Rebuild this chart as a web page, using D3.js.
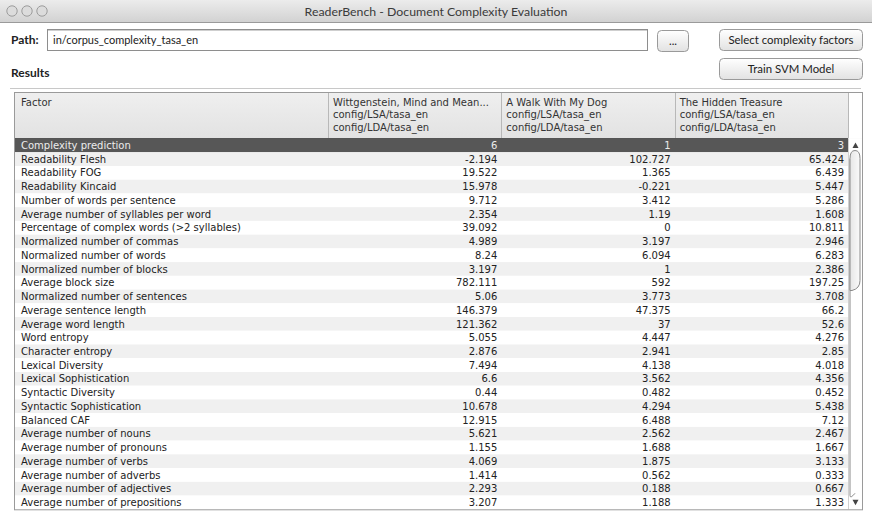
<!DOCTYPE html>
<html><head><meta charset="utf-8">
<script src="https://cdn.jsdelivr.net/npm/d3@7"></script>
<style>
html,body{margin:0;padding:0;background:#fff;}
svg{display:block;}
</style></head>
<body>
<script>
// ---------- DATA ----------
const windowTitle = "ReaderBench - Document Complexity Evaluation";
const pathValue = "in/corpus_complexity_tasa_en";
const buttonLabels = ["...", "Select complexity factors", "Train SVM Model"];
const factorHeader = "Factor";
const documents = ["Wittgenstein, Mind and Mean...", "A Walk With My Dog", "The Hidden Treasure"];
const docConfigs = ["config/LSA/tasa_en", "config/LDA/tasa_en"];
const factors = [
  "Complexity prediction",
  "Readability Flesh",
  "Readability FOG",
  "Readability Kincaid",
  "Number of words per sentence",
  "Average number of syllables per word",
  "Percentage of complex words (>2 syllables)",
  "Normalized number of commas",
  "Normalized number of words",
  "Normalized number of blocks",
  "Average block size",
  "Normalized number of sentences",
  "Average sentence length",
  "Average word length",
  "Word entropy",
  "Character entropy",
  "Lexical Diversity",
  "Lexical Sophistication",
  "Syntactic Diversity",
  "Syntactic Sophistication",
  "Balanced CAF",
  "Average number of nouns",
  "Average number of pronouns",
  "Average number of verbs",
  "Average number of adverbs",
  "Average number of adjectives",
  "Average number of prepositions"
];
const wittgensteinValues = ["6","-2.194","19.522","15.978","9.712","2.354","39.092","4.989","8.24","3.197","782.111","5.06","146.379","121.362","5.055","2.876","7.494","6.6","0.44","10.678","12.915","5.621","1.155","4.069","1.414","2.293","3.207"];
const walkDogValues = ["1","102.727","1.365","-0.221","3.412","1.19","0","3.197","6.094","1","592","3.773","47.375","37","4.447","2.941","4.138","3.562","0.482","4.294","6.488","2.562","1.688","1.875","0.562","0.188","1.188"];
const hiddenTreasureValues = ["3","65.424","6.439","5.447","5.286","1.608","10.811","2.946","6.283","2.386","197.25","3.708","66.2","52.6","4.276","2.85","4.018","4.356","0.452","5.438","7.12","2.467","1.667","3.133","0.333","0.667","1.333"];
const seriesValues = [wittgensteinValues, walkDogValues, hiddenTreasureValues];

// ---------- DRAW ----------
const W = 872, H = 524;
const uiFont = "Lato, 'Open Sans', sans-serif";
const tblFont = "'DejaVu Sans', Verdana, sans-serif";
const svg = d3.select("body").append("svg").attr("width", W).attr("height", H);
const defs = svg.append("defs");

const tg = defs.append("linearGradient").attr("id","titleGrad").attr("x1",0).attr("y1",0).attr("x2",0).attr("y2",1);
tg.append("stop").attr("offset","0%").attr("stop-color","#ececec");
tg.append("stop").attr("offset","100%").attr("stop-color","#d2d2d2");
const bg = defs.append("linearGradient").attr("id","btnGrad").attr("x1",0).attr("y1",0).attr("x2",0).attr("y2",1);
bg.append("stop").attr("offset","0%").attr("stop-color","#ffffff");
bg.append("stop").attr("offset","100%").attr("stop-color","#e2e2e2");
const hg = defs.append("linearGradient").attr("id","hdrGrad").attr("x1",0).attr("y1",0).attr("x2",0).attr("y2",1);
hg.append("stop").attr("offset","0%").attr("stop-color","#efefef");
hg.append("stop").attr("offset","100%").attr("stop-color","#e2e2e2");
const sg = defs.append("linearGradient").attr("id","scrGrad").attr("x1",0).attr("y1",0).attr("x2",1).attr("y2",0);
sg.append("stop").attr("offset","0%").attr("stop-color","#e6e6e6");
sg.append("stop").attr("offset","100%").attr("stop-color","#fafafa");

// Title bar
svg.append("rect").attr("x",0).attr("y",0).attr("width",W).attr("height",22).attr("fill","url(#titleGrad)");
svg.append("line").attr("x1",0).attr("x2",W).attr("y1",22.5).attr("y2",22.5).attr("stroke","#9a9a9a");
[12,27,42].forEach(cx=>{
  svg.append("circle").attr("cx",cx).attr("cy",11).attr("r",5.2).attr("fill","#dcdcdc").attr("stroke","#9c9c9c").attr("stroke-width",1);
});
svg.append("text").attr("x",436).attr("y",15.5).attr("text-anchor","middle")
  .attr("font-family",uiFont).attr("font-size",12.3).attr("fill","#3a3a3a").text(windowTitle);

// Path row
svg.append("text").attr("x",11).attr("y",44).attr("font-family",uiFont).attr("font-size",12).attr("font-weight","bold").attr("fill","#222").text("Path:");
svg.append("rect").attr("x",47.5).attr("y",29.5).attr("width",600).attr("height",21).attr("fill","#fff").attr("stroke","#8e8e8e");
svg.append("line").attr("x1",48).attr("x2",647).attr("y1",30.5).attr("y2",30.5).attr("stroke","#cfcfcf");
svg.append("text").attr("x",53).attr("y",44).attr("font-family",uiFont).attr("font-size",11).attr("fill","#222").text(pathValue);

// Buttons
const buttons = [
  {label: buttonLabels[0], x:657, y:30, w:31, h:21},
  {label: buttonLabels[1], x:719, y:29, w:143, h:21},
  {label: buttonLabels[2], x:719, y:58, w:143, h:21}
];
const bsel = svg.selectAll("g.btn").data(buttons).join("g").attr("class","btn");
bsel.append("rect").attr("x",d=>d.x+0.5).attr("y",d=>d.y+0.5).attr("width",d=>d.w).attr("height",d=>d.h)
  .attr("rx",4).attr("fill","url(#btnGrad)").attr("stroke","#9a9a9a");
bsel.append("text").attr("x",d=>d.x+d.w/2+0.5).attr("y",d=>d.y+d.h/2+4.5).attr("text-anchor","middle")
  .attr("font-family",uiFont).attr("font-size",11.4).attr("fill","#222").text(d=>d.label);

// Results label + separator
svg.append("text").attr("x",11).attr("y",77).attr("font-family",uiFont).attr("font-size",12).attr("font-weight","bold").attr("fill","#222").text("Results");
svg.append("line").attr("x1",10).attr("x2",861).attr("y1",88.5).attr("y2",88.5).attr("stroke","#c8c8c8");

// Table
const tX0 = 15, tX1 = 862, factorRight = 328, colsRight = 848;
const hdrTop = 93, hdrBot = 138.5, tblBot = 509.3;
const x = d3.scaleBand().domain(documents).range([factorRight, colsRight]).paddingInner(0).paddingOuter(0);
const y = d3.scaleBand().domain(factors).range([hdrBot, tblBot]);

// header
svg.append("rect").attr("x",tX0).attr("y",hdrTop).attr("width",tX1-tX0).attr("height",hdrBot-hdrTop).attr("fill","url(#hdrGrad)");
svg.append("rect").attr("x",colsRight).attr("y",hdrTop).attr("width",tX1-colsRight).attr("height",hdrBot-hdrTop).attr("fill","#fff");
[factorRight, ...documents.map(d=>x(d)+x.bandwidth())].forEach(xx=>{
  svg.append("line").attr("x1",Math.round(xx)+0.5).attr("x2",Math.round(xx)+0.5).attr("y1",hdrTop).attr("y2",hdrBot).attr("stroke","#b8b8b8");
});
svg.append("text").attr("x",tX0+6).attr("y",hdrTop+13).attr("font-family",tblFont).attr("font-size",10).attr("fill","#333").text(factorHeader);
const hdr = svg.selectAll("g.hdr").data(documents).join("g").attr("class","hdr");
hdr.each(function(doc){
  const g = d3.select(this);
  [doc, ...docConfigs].forEach((line,i)=>{
    g.append("text").attr("x",x(doc)+5).attr("y",hdrTop+13+i*12.4).attr("font-family",tblFont).attr("font-size",10).attr("fill","#333").text(line);
  });
});

// rows
const rows = svg.selectAll("g.row").data(factors).join("g").attr("class","row");
rows.append("rect").attr("x",tX0).attr("y",d=>y(d)).attr("width",colsRight-tX0).attr("height",y.bandwidth())
  .attr("fill",(d,i)=> i===0 ? "#575757" : (i%2===1 ? "#f0f0f0" : "#ffffff"));
rows.append("text").attr("x",tX0+6).attr("y",d=>y(d)+y.bandwidth()/2+3.6)
  .attr("font-family",tblFont).attr("font-size",10).attr("fill",(d,i)=> i===0 ? "#ececec" : "#222").text(d=>d);
documents.forEach((doc,ci)=>{
  svg.selectAll(null).data(seriesValues[ci]).join("text")
    .attr("x", x(doc)+x.bandwidth()-4)
    .attr("y",(v,i)=>y(factors[i])+y.bandwidth()/2+3.6)
    .attr("text-anchor","end").attr("font-family",tblFont).attr("font-size",10)
    .attr("fill",(v,i)=> i===0 ? "#ececec" : "#222").text(v=>v);
});

// header bottom line
svg.append("line").attr("x1",tX0).attr("x2",colsRight).attr("y1",hdrBot).attr("y2",hdrBot).attr("stroke","#555");

// scrollbar
svg.append("rect").attr("x",colsRight).attr("y",hdrBot).attr("width",tX1-colsRight).attr("height",tblBot-hdrBot).attr("fill","#fff");
svg.append("line").attr("x1",colsRight+0.5).attr("x2",colsRight+0.5).attr("y1",hdrBot).attr("y2",tblBot).attr("stroke","#d0d0d0");
svg.append("path").attr("d",`M${colsRight+2},${hdrBot+20} L${colsRight+2},${tblBot-14} Q${colsRight+2},${tblBot-10} ${colsRight+7},${tblBot-16}`)
  .attr("fill","none").attr("stroke","#8a8a8a");
svg.append("path").attr("d",`M${colsRight+2},${hdrBot+20} Q${colsRight+2},${hdrBot+12} ${colsRight+7},${hdrBot+12} Q${colsRight+12},${hdrBot+12} ${colsRight+12},${hdrBot+20} L${colsRight+12},${hdrBot+142} Q${colsRight+12},${hdrBot+150} ${colsRight+4},${hdrBot+152} L${colsRight+2},${hdrBot+152} Z`)
  .attr("fill","url(#scrGrad)").attr("stroke","#8a8a8a");
svg.append("path").attr("d",`M${colsRight+4.5},${hdrBot+9.5} L${colsRight+10.5},${hdrBot+9.5} L${colsRight+7.5},${hdrBot+4} Z`).attr("fill","#444");
svg.append("path").attr("d",`M${colsRight+4.5},${tblBot-9.5} L${colsRight+10.5},${tblBot-9.5} L${colsRight+7.5},${tblBot-4} Z`).attr("fill","#444");

// table border
svg.append("rect").attr("x",tX0-0.5).attr("y",hdrTop-0.5).attr("width",tX1-tX0+1).attr("height",tblBot-hdrTop+1).attr("fill","none").attr("stroke","#9a9a9a");
</script>
</body></html>
